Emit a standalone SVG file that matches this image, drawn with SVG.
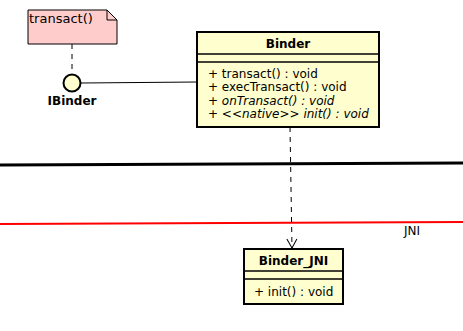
<svg xmlns="http://www.w3.org/2000/svg" width="463" height="331" viewBox="0 0 463 331">
  <defs>
    <style>
      text { font-family: "DejaVu Sans", sans-serif; fill: #000; }
      .box { fill: #FEFECE; stroke: #000; stroke-width: 2; }
      .sep { stroke: #000; stroke-width: 1.5; }
      .title { font-size: 12px; font-weight: bold; text-anchor: middle; }
      .member { font-size: 12px; }
      .abstract { font-size: 12px; font-style: italic; }
      .note { fill: #FFCCCC; stroke: #000; stroke-width: 1; }
    </style>
    <marker id="open" markerWidth="14" markerHeight="14" refX="12" refY="7" orient="auto" markerUnits="userSpaceOnUse" viewBox="0 0 14 14">
      <path d="M3,2 L12,7 L3,12" fill="none" stroke="#000" stroke-width="1"/>
    </marker>
  </defs>
  <rect width="463" height="331" fill="#fff"/>

  <!-- layer separators -->
  <g id="layers">
    <line x1="0" y1="165" x2="463" y2="163" stroke="#000" stroke-width="3"/>
    <line x1="0" y1="224" x2="463" y2="222" stroke="#FF0000" stroke-width="2"/>
    <text x="404" y="235" font-size="12" fill="#222">JNI</text>
  </g>

  <!-- connectors -->
  <g id="connectors">
    <line x1="72" y1="44" x2="72" y2="74" stroke="#000" stroke-width="1" stroke-dasharray="5,5"/>
    <line x1="81" y1="83" x2="197" y2="82" stroke="#000" stroke-width="1"/>
    <line x1="290" y1="127" x2="292" y2="248" stroke="#000" stroke-width="1" stroke-dasharray="5,5" marker-end="url(#open)"/>
  </g>

  <!-- note -->
  <g id="note-transact">
    <path class="note" d="M28,10 H107 L117,20 V44 H28 Z"/>
    <path d="M107,10 V20 H117" fill="none" stroke="#000" stroke-width="1"/>
    <text x="29" y="23" font-size="13">transact()</text>
  </g>

  <!-- interface lollipop -->
  <g id="IBinder">
    <circle cx="72" cy="83" r="8.5" fill="#FEFECE" stroke="#000" stroke-width="2"/>
    <text x="72" y="105" class="title">IBinder</text>
  </g>

  <!-- Binder class -->
  <g id="Binder">
    <rect class="box" x="197" y="32" width="182" height="95"/>
    <line class="sep" x1="197" y1="54" x2="379" y2="54"/>
    <line class="sep" x1="197" y1="62" x2="379" y2="62"/>
    <text x="288" y="48" class="title">Binder</text>
    <text x="208" y="78" class="member">+ transact() : void</text>
    <text x="208" y="91" class="member">+ execTransact() : void</text>
    <text x="208" y="105" class="abstract">+ onTransact() : void</text>
    <text x="208" y="118" class="abstract">+ &lt;&lt;native&gt;&gt; init() : void</text>
  </g>

  <!-- Binder_JNI class -->
  <g id="Binder_JNI">
    <rect class="box" x="244" y="249" width="99" height="55"/>
    <line class="sep" x1="244" y1="271" x2="343" y2="271"/>
    <line class="sep" x1="244" y1="279" x2="343" y2="279"/>
    <text x="293.5" y="265" class="title">Binder_JNI</text>
    <text x="254" y="296" class="member">+ init() : void</text>
  </g>
</svg>
